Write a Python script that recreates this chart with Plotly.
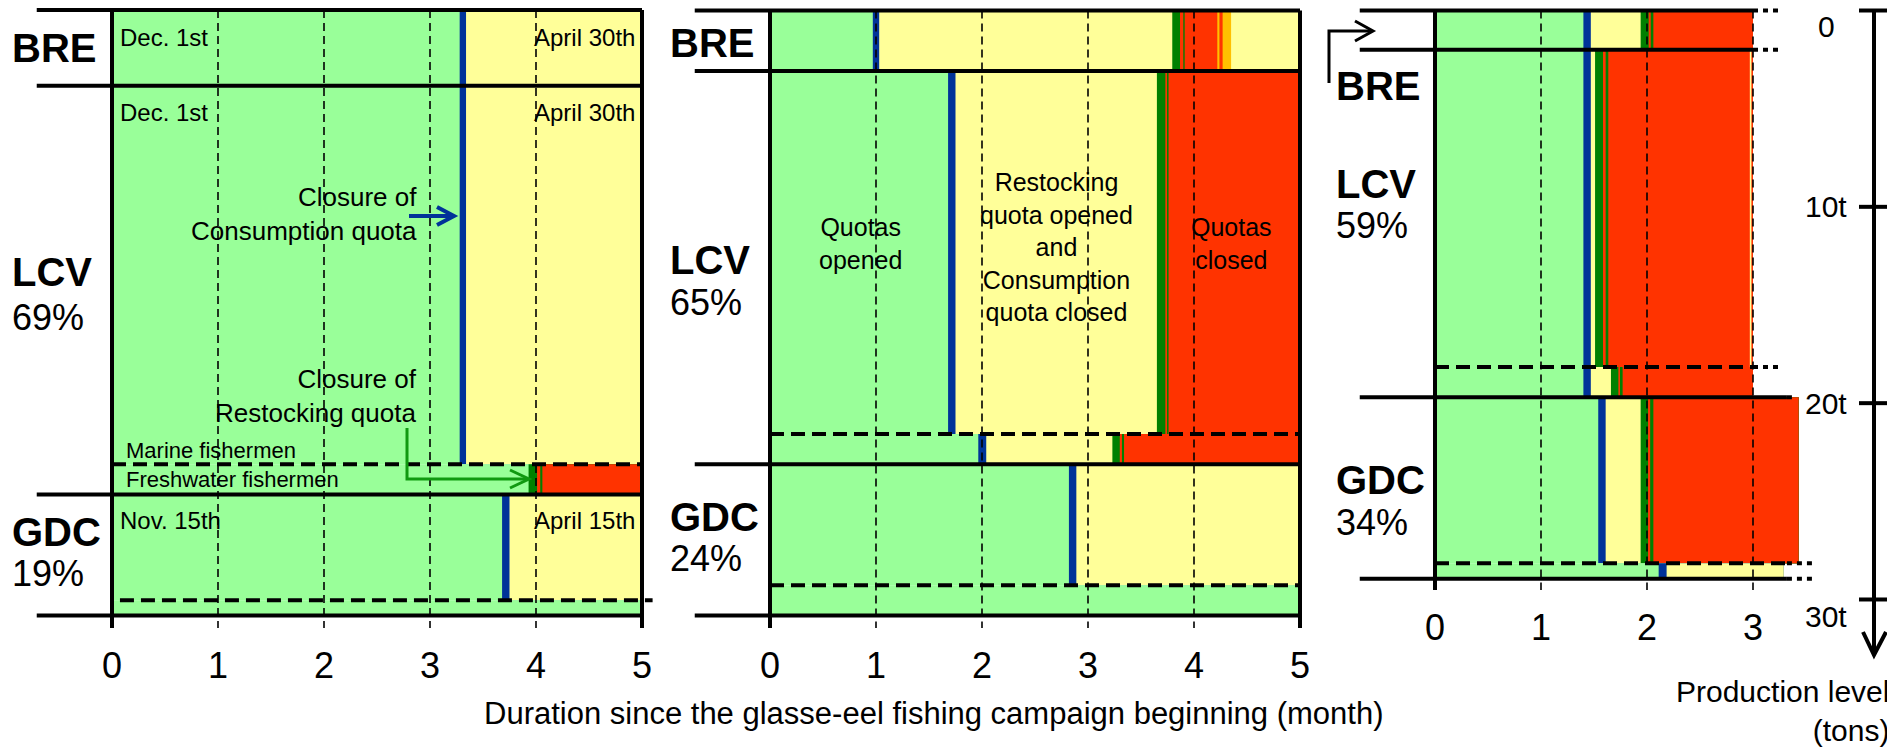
import plotly.graph_objects as go

# The page body has an 8px margin: the figure is made 8px smaller and all
# pixel anchors below are page pixels (offset is removed in the helpers).
OFF = 8
PAGE_W, PAGE_H = 1895, 749
W, H = PAGE_W - OFF, PAGE_H - OFF
COL = {"G": "#99FF99", "Y": "#FFFF99", "R": "#FF3300", "B": "#003399",
       "D": "#008000", "O": "#FFC000"}
FONT = "Liberation Sans, Arial, sans-serif"

# ---------------- data ----------------
month_ticks = [0, 1, 2, 3, 4, 5]
month_ticks_p3 = [0, 1, 2, 3]
ton_ticks = [0, 10, 20, 30]
ton_labels = ["0", "10t", "20t", "30t"]

row_names = ["BRE", "LCV", "GDC"]

# Panel 1: regulation (rows sized by share of production, %)
p1_share = ["", "69%", "19%"]
p1_row_edges = [0, 12.5, 80, 100]
p1_sub_edges = [75, 97.5]
p1_band_y = [(0, 75), (75, 80), (80, 97.5), (97.5, 100)]
p1_band_starts = [[0, 3.28, 3.34],
                  [0, 3.93, 4.01, 4.04, 4.06],
                  [0, 3.68, 3.75],
                  [0]]
p1_band_colors = [["G", "B", "Y"],
                  ["G", "D", "R", "D", "R"],
                  ["G", "B", "Y"],
                  ["G"]]
p1_band_ends = [5, 5, 5, 5]

# Panel 2: simulated, share of production (%)
p2_share = ["", "65%", "24%"]
p2_row_edges = [0, 10, 75, 100]
p2_sub_edges = [70, 95]
p2_band_y = [(0, 10), (10, 70), (70, 75), (75, 95), (95, 100)]
p2_band_starts = [[0, 0.97, 1.03, 3.795, 3.868, 3.899, 3.912, 4.22, 4.24, 4.27, 4.35],
                  [0, 1.68, 1.75, 3.65, 3.73, 3.745, 3.76],
                  [0, 1.965, 2.04, 3.23, 3.30, 3.32, 3.34],
                  [0, 2.82, 2.89],
                  [0]]
p2_band_colors = [["G", "B", "Y", "D", "R", "D", "R", "O", "R", "O", "Y"],
                  ["G", "B", "Y", "D", "R", "D", "R"],
                  ["G", "B", "Y", "D", "R", "D", "R"],
                  ["G", "B", "Y"],
                  ["G"]]
p2_band_ends = [5, 5, 5, 5, 5]

# Panel 3: simulated, production level (tons)
p3_share = ["", "59%", "34%"]
p3_row_edges = [0, 2.0, 19.7, 28.94]
p3_sub_edges = [18.16, 28.16]
p3_band_y = [(0, 2.0), (2.0, 18.16), (18.16, 19.7), (19.7, 28.16), (28.16, 28.94)]
p3_band_starts = [[0, 1.40, 1.47, 1.94, 2.016, 2.035, 2.06],
                  [0, 1.40, 1.47, 1.51, 1.585, 1.61, 1.635, 2.97, 2.985],
                  [0, 1.40, 1.47, 1.66, 1.73, 1.745, 1.77],
                  [0, 1.54, 1.61, 1.94, 2.01, 2.03, 2.06],
                  [0, 2.11, 2.185]]
p3_band_colors = [["G", "B", "Y", "D", "R", "D", "R"],
                  ["G", "B", "Y", "D", "R", "D", "R", "Y", "R"],
                  ["G", "B", "Y", "D", "R", "D", "R"],
                  ["G", "B", "Y", "D", "R", "D", "R"],
                  ["G", "B", "Y"]]
p3_band_ends = [3.0, 3.0, 3.0, 3.43, 3.29]

# ---------------- layout geometry (page pixels) ----------------
PPM = 106                      # px per month
X0 = [112, 770, 1435]          # px of month 0 per panel
XR = [(-0.75, 5.25), (-0.75, 5.25), (-0.75, 4.3)]
YTOP = [10, 10.5, 10.5]        # px of value 0
YPPU = [6.055, 6.05, 19.633]   # px per unit
YDOM_TOP, YDOM_BOT = OFF, 668


def xp(v):
    return (v - OFF) / W


def yp(v):
    return 1 - (v - OFF) / H


fig = go.Figure()
layout_axes = {}
for i in range(3):
    sx = "" if i == 0 else str(i + 1)
    r0, r1 = XR[i]
    layout_axes["xaxis" + sx] = dict(
        domain=[xp(X0[i] + r0 * PPM), xp(X0[i] + r1 * PPM)],
        range=[r0, r1], visible=False, anchor="y" + sx, fixedrange=True)
    layout_axes["yaxis" + sx] = dict(
        domain=[yp(YDOM_BOT), yp(YDOM_TOP)],
        range=[(YDOM_BOT - YTOP[i]) / YPPU[i], (YDOM_TOP - YTOP[i]) / YPPU[i]],
        visible=False, anchor="x" + sx, fixedrange=True)
    fig.add_trace(go.Scatter(x=[None], y=[None], xaxis="x" + sx, yaxis="y" + sx,
                             showlegend=False, hoverinfo="skip"))

shapes = []
SOLID_W = 4


def rect(xr, yr, x0, x1, y0, y1, color):
    shapes.append(dict(type="rect", xref=xr, yref=yr, x0=x0, x1=x1, y0=y0, y1=y1,
                       fillcolor=color, line=dict(width=0), layer="above"))


def line(xr, yr, x0, y0, x1, y1, color="black", width=SOLID_W, dash="solid"):
    shapes.append(dict(type="line", xref=xr, yref=yr, x0=x0, y0=y0, x1=x1, y1=y1,
                       line=dict(color=color, width=width, dash=dash), layer="above"))


def bands(xr, yr, band_y, starts, colors, ends):
    for (y0, y1), st, cl, e in zip(band_y, starts, colors, ends):
        for s, c in zip(st, cl):
            rect(xr, yr, s, e, y0, y1, COL[c])


bands("x", "y", p1_band_y, p1_band_starts, p1_band_colors, p1_band_ends)
bands("x2", "y2", p2_band_y, p2_band_starts, p2_band_colors, p2_band_ends)
bands("x3", "y3", p3_band_y, p3_band_starts, p3_band_colors, p3_band_ends)

GRID_DASH = "8px,5px"
HDASH = "14px,7px"
DOTS = "5px,5px"
LEFT_EXT = -0.71

# panels 1 & 2
for xr, yr, edges, subs, i in [("x", "y", p1_row_edges, p1_sub_edges, 0),
                               ("x2", "y2", p2_row_edges, p2_sub_edges, 1)]:
    ybot = (628 - YTOP[i]) / YPPU[i]
    for m in month_ticks[1:-1]:
        line(xr, yr, m, 0, m, ybot, width=1.6, dash=GRID_DASH)
    for k, s in enumerate(subs):
        xa, xb = (0, 5) if (i == 1 or k == 0) else (0.075, 5.1)
        line(xr, yr, xa, s, xb, s, width=4, dash=HDASH)
    for e in edges:
        line(xr, yr, LEFT_EXT, e, 5, e)
    line(xr, yr, 0, 0, 0, ybot)
    line(xr, yr, 5, 0, 5, ybot)

# panel 3
ybot3 = (590 - YTOP[2]) / YPPU[2]
for m in month_ticks_p3[1:]:
    line("x3", "y3", m, 0, m, ybot3, width=1.6, dash=GRID_DASH)
p3_line_end = [3.0, 3.0, 3.32, 3.32]
p3_dot_end = [3.28, 3.28, 3.40, 3.57]
p3_sub_end = [3.0, 3.32]
p3_sub_dot_end = [3.28, 3.57]
for s, e, d in zip(p3_sub_edges, p3_sub_end, p3_sub_dot_end):
    line("x3", "y3", 0, s, e, s, width=4, dash=HDASH)
    line("x3", "y3", e, s, d, s, width=4, dash=DOTS)
for r, e, d in zip(p3_row_edges, p3_line_end, p3_dot_end):
    line("x3", "y3", LEFT_EXT, r, e, r)
    line("x3", "y3", e, r, d, r, width=4, dash=DOTS)
line("x3", "y3", 0, 0, 0, ybot3)

# right production axis (tons)
AX_X = 1874
shapes.append(dict(type="line", xref="paper", yref="y3", x0=xp(AX_X), x1=xp(AX_X),
                   y0=ton_ticks[0], y1=(652 - YTOP[2]) / YPPU[2],
                   line=dict(color="black", width=4)))
for t in ton_ticks:
    shapes.append(dict(type="line", xref="paper", yref="y3", x0=xp(1859), x1=xp(1890),
                       y0=t, y1=t, line=dict(color="black", width=4)))


def path(pts, color, width):
    d = "M" + " L".join(f"{xp(a):.5f},{yp(b):.5f}" for a, b in pts)
    shapes.append(dict(type="path", xref="paper", yref="paper", path=d,
                       line=dict(color=color, width=width)))


path([(1863, 632), (1874, 655), (1886, 632)], "black", 4)
# bracket arrow near BRE (panel 3)
path([(1329, 83), (1329, 31), (1371, 31)], "black", 3)
path([(1355, 21), (1373, 31), (1355, 41)], "black", 3)
# blue arrow (closure of consumption quota)
path([(409, 216), (451, 216)], COL["B"], 4)
path([(437, 207), (454, 216), (437, 225)], COL["B"], 4)
# green arrow (closure of restocking quota)
path([(407, 428), (407, 479), (526, 479)], "#119911", 3)
path([(510, 470), (529, 479), (510, 488)], "#119911", 3)

# ---------------- text ----------------
ann = []


def text(t, x, y, size, anchor="left", bold=False, align=None, yanchor="middle"):
    ann.append(dict(text=f"<b>{t}</b>" if bold else t, x=xp(x), y=yp(y),
                    xref="paper", yref="paper", showarrow=False,
                    xanchor=anchor, yanchor=yanchor, align=align or anchor,
                    font=dict(family=FONT, size=size, color="black")))


label_pos = [
    (10, [48, 272, 532], [None, 317, 573], p1_share),
    (668, [43, 260, 517], [None, 302, 558], p2_share),
    (1334, [86, 184, 480], [None, 225, 522], p3_share),
]
for x, ys, ps, shares in label_pos:
    for name, y, py_, sh in zip(row_names, ys, ps, shares):
        text(name, x, y, 40, bold=True)
        if sh:
            text(sh, x, py_, 36)

text("Dec. 1st", 118, 37, 24)
text("April 30th", 637, 37, 24, anchor="right")
text("Dec. 1st", 118, 112, 24)
text("April 30th", 637, 112, 24, anchor="right")
text("Nov. 15th", 118, 520, 24)
text("April 15th", 637, 520, 24, anchor="right")
text("Closure of<br>Consumption quota", 419, 214, 26, anchor="right")
text("Closure of<br>Restocking quota", 419, 396, 26, anchor="right")
text("Marine fishermen", 124, 450, 22)
text("Freshwater fishermen", 124, 479, 22)

text("Quotas<br>opened", 860, 243, 25, anchor="center")
text("Restocking<br>quota opened<br>and<br>Consumption<br>quota closed", 1056, 247, 25, anchor="center")
text("Quotas<br>closed", 1231, 243, 25, anchor="center")

for i, x0 in enumerate(X0[:2]):
    for m in month_ticks:
        text(str(m), x0 + m * PPM, 665, 36, anchor="center")
for m in month_ticks_p3:
    text(str(m), X0[2] + m * PPM, 627, 36, anchor="center")

ton_label_shift = [-16, 0, 0, -17]
for t, lab, sh in zip(ton_ticks, ton_labels, ton_label_shift):
    ann.append(dict(text=lab, x=xp(1826), y=t, xref="paper", yref="y3", showarrow=False,
                    xanchor="center", yanchor="middle", yshift=sh,
                    font=dict(family=FONT, size=30, color="black")))

text("Duration since the glasse-eel fishing campaign beginning (month)", 934, 713, 31, anchor="center")
text("Production level<br>(tons)", 1891, 711, 30, anchor="right")

fig.update_layout(width=W, height=H, margin=dict(l=0, r=0, t=0, b=0),
                  paper_bgcolor="white", plot_bgcolor="rgba(0,0,0,0)",
                  showlegend=False, shapes=shapes, annotations=ann, **layout_axes)
fig.write_html("out.html")
